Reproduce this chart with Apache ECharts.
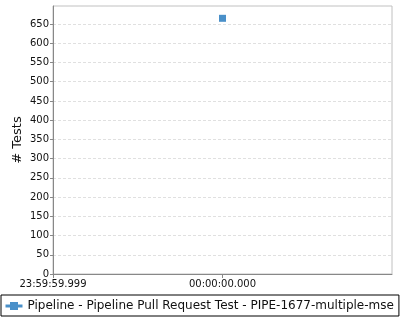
<!DOCTYPE html>
<html><head><meta charset="utf-8">
<script src="https://cdn.jsdelivr.net/npm/echarts@6/dist/echarts.min.js"></script>
<style>html,body{margin:0;padding:0;background:#fff}#c{width:400px;height:320px}</style>
</head><body><div id="c"></div>
<script>
const seriesName = "Pipeline - Pipeline Pull Request Test - PIPE-1677-multiple-mse";
const xValues = [0];
const testCounts = [665];
const xTickValues = [-1, 0];
const xTickLabels = ["23:59:59.999", "00:00:00.000"];
const yAxisName = "# Tests";

const chart = echarts.init(document.getElementById('c'), null, {renderer: 'canvas'});
const font = 'DejaVu Sans';
chart.setOption({
  animation: false,
  textStyle: {fontFamily: font},
  grid: {left: 53, top: 6, right: 8, bottom: 46, show: true, borderColor: '#c0c0c0', borderWidth: 1, backgroundColor: '#fff'},
  xAxis: {
    type: 'value', min: -1, max: 1, interval: 1,
    axisLine: {show: true, onZero: false, lineStyle: {color: '#888', width: 1}},
    axisTick: {show: true, length: 4, lineStyle: {color: '#888'}},
    splitLine: {show: false},
    axisLabel: {
      color: '#111', fontSize: 10, fontFamily: font, margin: 5, showMaxLabel: false,
      formatter: v => { const i = xTickValues.indexOf(v); return i >= 0 ? xTickLabels[i] : ''; }
    }
  },
  yAxis: {
    type: 'value', min: 0, max: 697, interval: 50,
    name: yAxisName, nameLocation: 'middle', nameGap: 29, nameMoveOverlap: false,
    nameTextStyle: {fontSize: 13, color: '#111', fontFamily: font},
    axisLine: {show: true, onZero: false, lineStyle: {color: '#888', width: 1}},
    axisTick: {show: true, length: 3, lineStyle: {color: '#888'}},
    axisLabel: {color: '#111', fontSize: 10, fontFamily: font, margin: 4, showMaxLabel: false},
    splitLine: {show: true, lineStyle: {color: '#e0e0e0', type: [3, 2], width: 1}}
  },
  legend: {
    show: true, left: 1, top: 295, orient: 'horizontal',
    borderColor: '#000', borderWidth: 1, padding: [5, 5, 4, 3],
    itemWidth: 17, itemHeight: 10,
    lineStyle: {width: 3},
    textStyle: {fontSize: 12, color: '#111', fontFamily: font, width: 382, overflow: 'truncate', ellipsis: ''},
    data: [seriesName]
  },
  series: [{
    name: seriesName, type: 'line', symbol: 'rect', symbolSize: 7,
    itemStyle: {color: '#4a90c9'}, lineStyle: {width: 3, color: '#4a90c9'},
    data: xValues.map((x, i) => [x, testCounts[i]])
  }]
});
</script></body></html>
